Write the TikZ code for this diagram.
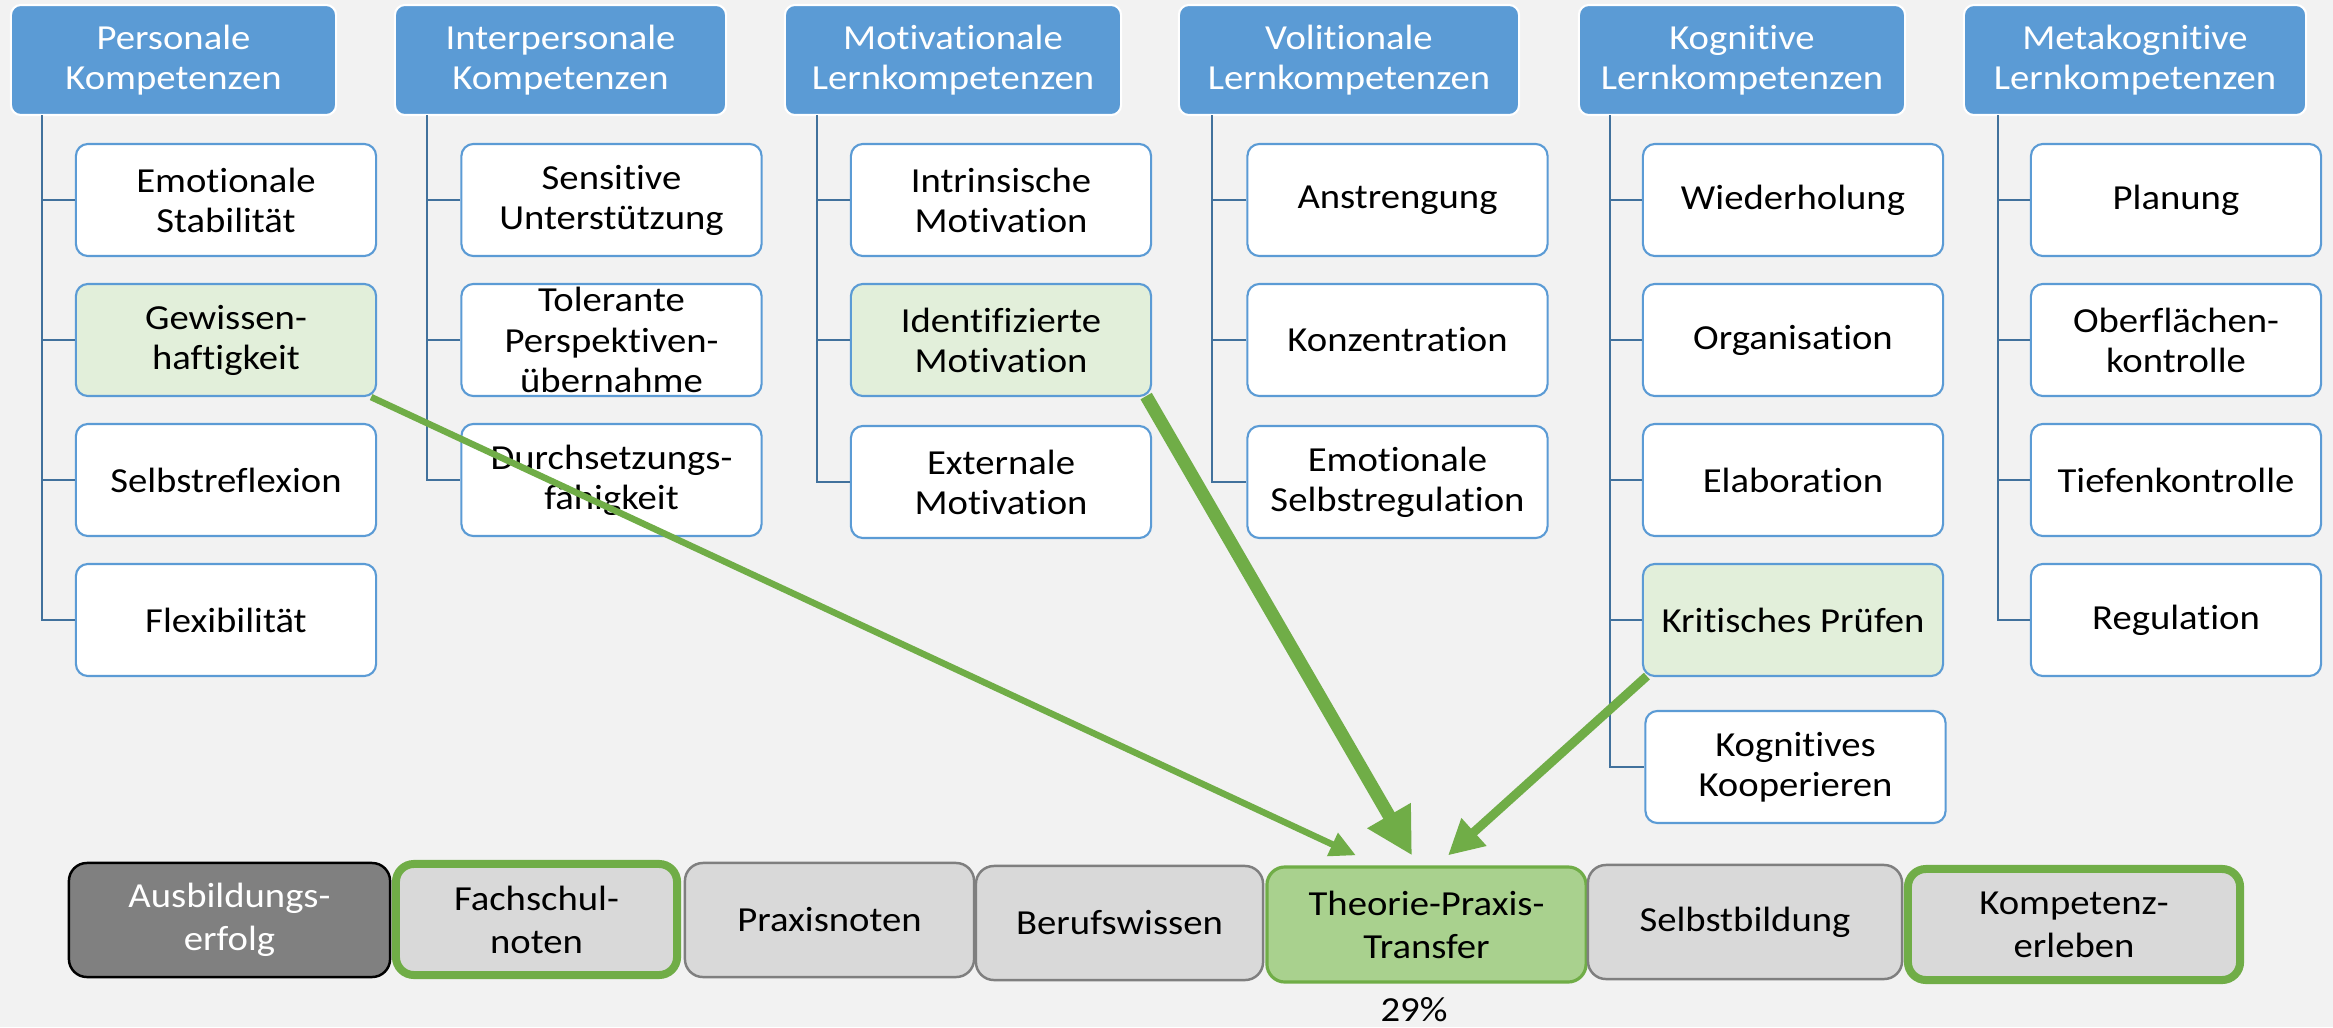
\documentclass[tikz,border=0pt]{standalone}
\usepackage{fontspec}
\setmainfont{Carlito}[FakeStretch=1.1, Ligatures=NoCommon]
\usetikzlibrary{arrows.meta,calc}
\definecolor{bg}{HTML}{F2F2F2}
\definecolor{hdr}{HTML}{5B9BD5}
\definecolor{trk}{HTML}{41719C}
\definecolor{lgreen}{HTML}{E2EFDA}
\definecolor{mgreen}{HTML}{A9D18E}
\definecolor{dgreen}{HTML}{70AD47}
\definecolor{lgray}{HTML}{D9D9D9}
\definecolor{mgray}{HTML}{808080}
\definecolor{bgray}{HTML}{7F7F7F}
\begin{document}
\begin{tikzpicture}[x={(0.01cm,0)},y={(0,-0.01cm)},
  txt/.style={font=\fontsize{10pt}{11.4pt}\selectfont, align=center, inner sep=0pt},
  hbox/.style={txt, rectangle, rounded corners=0.1cm, fill=hdr, draw=white, line width=0.6pt, text=white, minimum height=1.1cm},
  cbox/.style={txt, rectangle, rounded corners=0.12cm, fill=white, draw=hdr, line width=0.6pt, minimum height=1.12cm, minimum width=3.0cm},
  gbox/.style={cbox, fill=lgreen},
  bbox/.style={txt, font=\fontsize{10pt}{12.2pt}\selectfont, rectangle, rounded corners=0.18cm, fill=lgray, draw=bgray, line width=0.7pt, minimum height=1.14cm},
  trunk/.style={draw=trk, line width=0.6pt},
  arr/.style={draw=dgreen, line join=miter}
]
\useasboundingbox (0,0) rectangle (2333,1027);
\fill[bg] (0,0) rectangle (2333,1027);

% headers
\node[hbox, minimum width=3.25cm] (h1) at (173.5,60) {Personale\\Kompetenzen};
\node[hbox, minimum width=3.31cm] (h2) at (560.5,60) {Interpersonale\\Kompetenzen};
\node[hbox, minimum width=3.36cm] (h3) at (953,60) {Motivationale\\Lernkompetenzen};
\node[hbox, minimum width=3.40cm] (h4) at (1349,60) {Volitionale\\Lernkompetenzen};
\node[hbox, minimum width=3.26cm] (h5) at (1742,60) {Kognitive\\Lernkompetenzen};
\node[hbox, minimum width=3.42cm] (h6) at (2135,60) {Metakognitive\\Lernkompetenzen};

% trunk tops
\coordinate (t1) at (42,115);
\coordinate (t2) at (427,115);
\coordinate (t3) at (817,115);
\coordinate (t4) at (1212,115);
\coordinate (t5) at (1610,115);
\coordinate (t6) at (1998,115);

% column 1
\node[cbox] (c11) at (226,200) {Emotionale\\Stabilität};
\node[gbox] (c12) at (226,340) {Gewissen-\\haftigkeit};
\node[cbox] (c13) at (226,480) {Selbstreflexion};
\node[cbox] (c14) at (226,620) {Flexibilität};
% column 2
\node[cbox] (c21) at (611.5,200) {Sensitive\\Unterstützung};
\node[cbox] (c22) at (611.5,340) {Tolerante\\Perspektiven-\\übernahme};
\node[cbox] (c23) at (611.5,480) {Durchsetzungs-\\fähigkeit};
% column 3
\node[cbox] (c31) at (1001,200) {Intrinsische\\Motivation};
\node[gbox] (c32) at (1001,340) {Identifizierte\\Motivation};
\node[cbox] (c33) at (1001,482) {Externale\\Motivation};
% column 4
\node[cbox] (c41) at (1397.5,200) {Anstrengung};
\node[cbox] (c42) at (1397.5,340) {Konzentration};
\node[cbox] (c43) at (1397.5,482) {Emotionale\\Selbstregulation};
% column 5
\node[cbox] (c51) at (1793,200) {Wiederholung};
\node[cbox] (c52) at (1793,340) {Organisation};
\node[cbox] (c53) at (1793,480) {Elaboration};
\node[gbox] (c54) at (1793,620) {Kritisches Prüfen};
\node[cbox] (c55) at (1795.5,767) {Kognitives\\Kooperieren};
% column 6
\node[cbox, minimum width=2.9cm] (c61) at (2176,200) {Planung};
\node[cbox, minimum width=2.9cm] (c62) at (2176,340) {Oberflächen-\\kontrolle};
\node[cbox, minimum width=2.9cm] (c63) at (2176,480) {Tiefenkontrolle};
\node[cbox, minimum width=2.9cm] (c64) at (2176,620) {Regulation};

% trunks
\draw[trunk] (t1) |- (c14.west);
\foreach \c in {c11,c12,c13} \draw[trunk] (\c.west) -- (\c.west -| t1);
\draw[trunk] (t2) |- (c23.west);
\foreach \c in {c21,c22} \draw[trunk] (\c.west) -- (\c.west -| t2);
\draw[trunk] (t3) |- (c33.west);
\foreach \c in {c31,c32} \draw[trunk] (\c.west) -- (\c.west -| t3);
\draw[trunk] (t4) |- (c43.west);
\foreach \c in {c41,c42} \draw[trunk] (\c.west) -- (\c.west -| t4);
\draw[trunk] (t5) |- (c55.west);
\foreach \c in {c51,c52,c53,c54} \draw[trunk] (\c.west) -- (\c.west -| t5);
\draw[trunk] (t6) |- (c64.west);
\foreach \c in {c61,c62,c63} \draw[trunk] (\c.west) -- (\c.west -| t6);

% bottom row
\node[bbox, fill=mgray, draw=black, text=white, minimum width=3.21cm] (b1) at (229.5,920) {Ausbildungs-\\erfolg};
\node[bbox, draw=dgreen, line width=0.08cm, minimum width=2.81cm, minimum height=1.11cm] (b2) at (536.5,919.5) {Fachschul-\\noten};
\node[bbox, minimum width=2.89cm] (b3) at (829.5,920) {Praxisnoten};
\node[bbox, minimum width=2.87cm] (b4) at (1119.5,923) {Berufswissen};
\node[bbox, fill=mgreen, draw=dgreen, line width=0.9pt, minimum width=3.19cm, minimum height=1.15cm] (b5) at (1426.5,924.5) {Theorie-Praxis-\\Transfer};
\node[bbox, minimum width=3.14cm] (b6) at (1745,922) {Selbstbildung};
\node[bbox, draw=dgreen, line width=0.08cm, minimum width=3.32cm, minimum height=1.11cm] (b7) at (2074,924.5) {Kompetenz-\\erleben};
\node[txt] (pct) at (1414,1010) {29\%};

% arrows
\coordinate (ta) at ($(b5.north)+(-70.5,-10)$);
\coordinate (tb) at ($(b5.north)+(-14.5,-10)$);
\coordinate (tc) at ($(b5.north)+(21.5,-10)$);
\draw[arr, line width=0.065cm, -{Triangle[length=0.26cm,width=0.24cm]}] ($(c12.south east)+(-6,0)$) -- (ta);
\draw[arr, line width=0.13cm, -{Triangle[length=0.46cm,width=0.47cm]}] ($(c32.south east)+(-6,-1)$) -- (tb);
\draw[arr, line width=0.09cm, -{Triangle[length=0.35cm,width=0.35cm]}] ($(c54.south west)+(5,-1)$) -- (tc);
\end{tikzpicture}
\end{document}
